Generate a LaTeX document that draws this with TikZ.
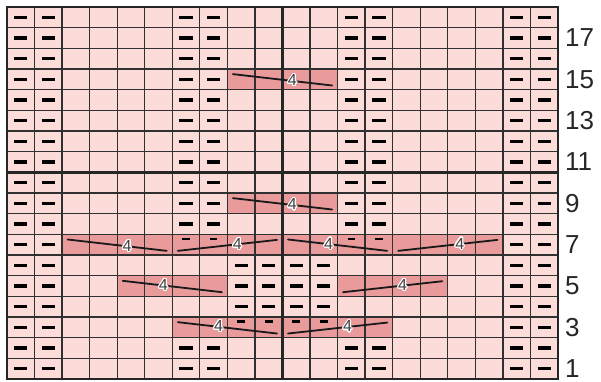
\documentclass[tikz,border=0pt]{standalone}
\usepackage{fontspec}
\setmainfont{Liberation Sans}
\usepackage{contour}
\contourlength{1.1pt}
\contournumber{16}
\definecolor{knitbg}{HTML}{FCDCD8}
\definecolor{cablebg}{HTML}{E99A9B}
\definecolor{gridline}{HTML}{303030}
\tikzset{
  purl/.style={line width=3.2pt},
  purlsmall/.style={line width=2.6pt},
  cableline/.style={line width=1.8pt, line cap=round, black!90},
  cablenum/.style={font=\fontsize{16}{16}\selectfont, text=black!75, inner sep=0pt},
  rownum/.style={font=\fontsize{26}{26}\selectfont, text=black!85, anchor=west, inner sep=0pt}
}
\begin{document}
\begin{tikzpicture}[x=27.55pt,y=20.67pt]
   \useasboundingbox (-0.254,-0.097) rectangle (21.561,18.336);
   % 背景
   \fill[knitbg] (0,0) rectangle (20,18);
   % 交差する4目
   \foreach \r/\L in {15/8, 9/8, 7/2, 7/6, 7/10, 7/14, 5/4, 5/12, 3/6, 3/10}
      \fill[cablebg] (\L,\r-1) rectangle (\L+4,\r);
   % 格子
   \draw[gridline, line width=1.3pt, step=1] (0,0) grid (20,18);
   \draw[black!85, line width=2.5pt] (0,0) rectangle (20,18);
   \draw[black!85, line width=3pt] (10,0) -- (10,18);
   \draw[black!85, line width=3.5pt] (0,10) -- (20,10);

   % 裏目
   \foreach \r in {1,2,8,9,10,11,12,13,14,15,16,17,18}
      \foreach \c in {1,2,7,8,13,14,19,20}
         \draw[purl] (\c-0.74,\r-0.5) -- (\c-0.26,\r-0.5);
   \foreach \r in {4,5,6}
      \foreach \c in {1,2,9,10,11,12,19,20}
         \draw[purl] (\c-0.74,\r-0.5) -- (\c-0.26,\r-0.5);
   \foreach \r in {3,7}
      \foreach \c in {1,2,19,20}
         \draw[purl] (\c-0.74,\r-0.5) -- (\c-0.26,\r-0.5);
   \foreach \r/\c in {7/7,7/8,7/13,7/14,3/9,3/10,3/11,3/12}
      \draw[purlsmall] (\c-0.64,\r-0.23) -- (\c-0.36,\r-0.23);

   % 交差の線
   \foreach \r/\L/\ya/\yb/\p in {15/8/0.25/0.8/0.6, 9/8/0.25/0.8/0.6, 7/2/0.25/0.8/0.6,
         7/6/0.8/0.27/0.6, 7/10/0.25/0.8/0.41, 7/14/0.8/0.27/0.62, 5/4/0.25/0.8/0.41,
         5/12/0.8/0.27/0.6, 3/6/0.25/0.8/0.41, 3/10/0.8/0.27/0.6}
      \draw[cableline] (\L+0.2,\r-\ya) -- node[pos=\p, cablenum] (cab\r\L) {\contour{white}{4}} (\L+3.8,\r-\yb);

   % 段数
   \foreach \r in {1,3,...,17}
      \node[rownum] (row\r) at (20.25,\r-0.5) {\r};
\end{tikzpicture}
\end{document}
